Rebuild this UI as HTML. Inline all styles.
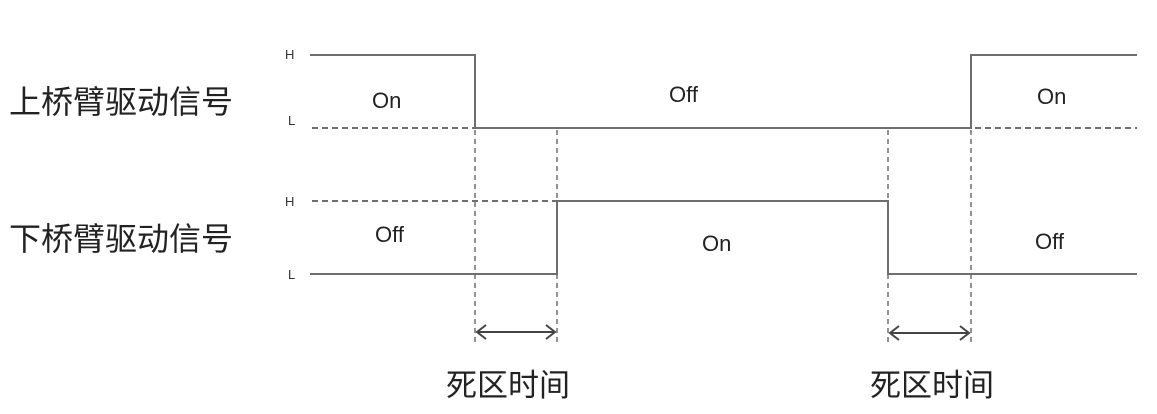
<!DOCTYPE html>
<html><head><meta charset="utf-8"><style>
html,body{margin:0;padding:0;background:#fff;}
svg{display:block;}
</style></head><body>
<svg width="1157" height="414" viewBox="0 0 1157 414" xmlns="http://www.w3.org/2000/svg">
<g stroke="#6e6e6e" stroke-width="2" fill="none">
<!-- upper signal -->
<polyline points="310,55 475,55 475,128 971,128 971,55 1137,55"/>
<line x1="312" y1="128" x2="475" y2="128" stroke-dasharray="6,4"/>
<line x1="975" y1="128" x2="1137" y2="128" stroke-dasharray="6,4"/>
<!-- lower signal -->
<polyline points="310,274 557,274 557,201 888,201 888,274 1137,274"/>
<line x1="312" y1="201" x2="557" y2="201" stroke-dasharray="6,4"/>
</g>
<g stroke="#6e6e6e" stroke-width="1.5" stroke-dasharray="5,4" fill="none">
<line x1="475" y1="130" x2="475" y2="342"/>
<line x1="557" y1="130" x2="557" y2="342"/>
<line x1="888" y1="130" x2="888" y2="342"/>
<line x1="971" y1="130" x2="971" y2="342"/>
</g>
<g stroke="#444" stroke-width="2" fill="none">
<line x1="477" y1="332" x2="555" y2="332"/>
<polyline points="486,325 477,332 486,339"/>
<polyline points="546,325 555,332 546,339"/>
<line x1="890" y1="333" x2="969" y2="333"/>
<polyline points="899,326 890,333 899,340"/>
<polyline points="960,326 969,333 960,340"/>
</g>
<g font-family="Liberation Sans, sans-serif" font-size="13" fill="#333">
<text x="285" y="59">H</text>
<text x="288" y="125">L</text>
<text x="285" y="206">H</text>
<text x="288" y="279">L</text>
</g>
<g font-family="Liberation Sans, sans-serif" font-size="22" fill="#222">
<text x="372" y="108">On</text>
<text x="669" y="102">Off</text>
<text x="1037" y="104">On</text>
<text x="375" y="242">Off</text>
<text x="702" y="251">On</text>
<text x="1035" y="249">Off</text>
</g>
<g font-family="Liberation Sans, Noto Sans CJK SC, sans-serif" font-size="32" fill="#222">
<text x="9" y="113">上桥臂驱动信号</text>
<text x="9" y="250">下桥臂驱动信号</text>
</g>
<g font-family="Liberation Sans, Noto Sans CJK SC, sans-serif" font-size="31" fill="#222">
<text x="446" y="396">死区时间</text>
<text x="870" y="396">死区时间</text>
</g>
</svg>
</body></html>
